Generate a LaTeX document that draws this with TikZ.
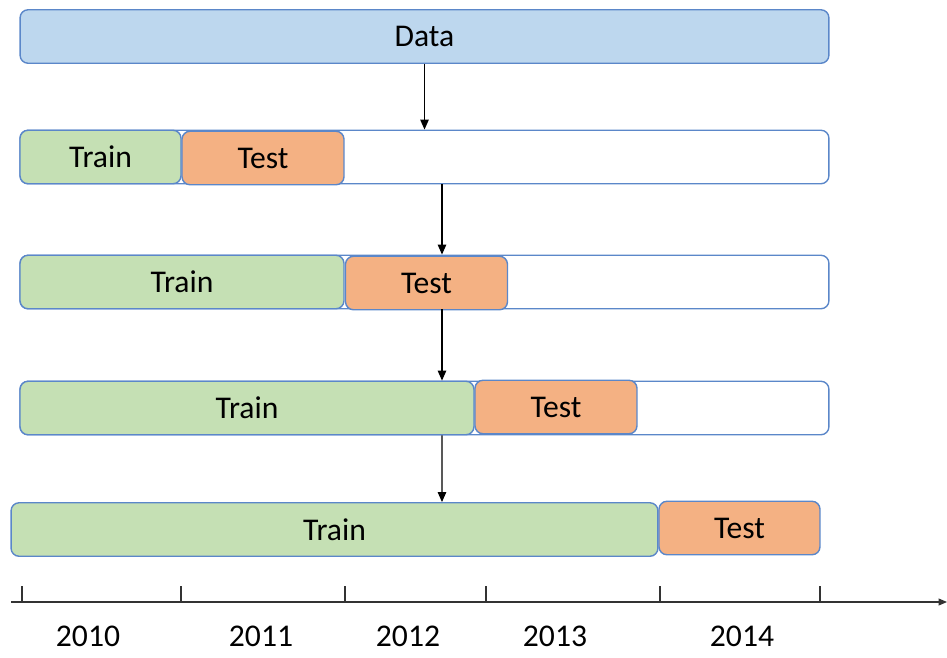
\documentclass[tikz,border=0pt]{standalone}
\usepackage{fontspec}
\setmainfont{Carlito}
\usepackage{tikz}
\usetikzlibrary{positioning, arrows.meta}
\definecolor{dataFill}{HTML}{BDD7EE}
\definecolor{trainFill}{HTML}{C5E0B4}
\definecolor{testFill}{HTML}{F4B183}
\definecolor{boxLine}{HTML}{5B87C9}
\tikzset{
  bar/.style={draw=boxLine, line width=0.8pt, rectangle, rounded corners=1.6mm, inner sep=0pt, minimum height=1.07cm, font=\fontsize{18}{21}\selectfont},
  databox/.style={bar, fill=dataFill},
  rowbox/.style={bar, fill=white, minimum width=16.18cm},
  trainbox/.style={bar, fill=trainFill},
  testbox/.style={bar, fill=testFill, minimum width=3.24cm},
  flow/.style={-{Triangle[length=2mm, width=1.7mm]}, line width=0.7pt}
}

\begin{document}
\begin{tikzpicture}[x=0.02cm, y=-0.02cm]
  \useasboundingbox (0,0) rectangle (947,657);

  % Whole data set
  \node[databox, minimum width=16.18cm] (data) at (424.5,36.5) {Data};

  % Splits
  \node[rowbox] (row1) at (424.5,157) {};
  \node[trainbox, minimum width=3.22cm] (train1) at (100.5,157) {Train};
  \node[testbox] (test1) at (263,158) {Test};

  \node[rowbox] (row2) at (424.5,282) {};
  \node[trainbox, minimum width=6.48cm] (train2) at (182,282) {Train};
  \node[testbox] (test2) at (426.5,283) {Test};

  \node[rowbox] (row3) at (424.5,408) {};
  \node[trainbox, minimum width=9.08cm] (train3) at (247,408) {Train};
  \node[testbox] (test3) at (556,407) {Test};

  \node[trainbox, minimum width=12.94cm] (train4) at (334.5,529.5) {Train};
  \node[testbox, minimum width=3.22cm] (test4) at (739.5,528) {Test};

  % Arrows
  \draw[flow] (data) -- (row1);
  \draw[flow] ([xshift=0.35cm]row1.south) -- ([xshift=0.35cm]row2.north);
  \draw[flow] ([xshift=0.35cm]row2.south) -- ([xshift=0.35cm]row3.north);
  \draw[flow] ([xshift=0.35cm]row3.south) -- ([xshift=2.15cm]train4.north);

  % Time axis
  \coordinate (axstart) at (11,602);
  \coordinate (axend) at (947,602);
  \draw[-{Triangle[length=1.7mm, width=1.4mm]}, line width=0.6pt, black!80] (axstart) -- (axend);
  \foreach \x in {22,181,345,486,660,820}
    \draw[line width=0.6pt, black!80] (\x,586) -- (\x,602);
  \foreach \x/\yr in {88/2010, 261/2011, 408/2012, 555/2013, 742/2014}
    \node[font=\fontsize{18}{21}\selectfont] (y\yr) at (\x,636) {\yr};
\end{tikzpicture}
\end{document}
